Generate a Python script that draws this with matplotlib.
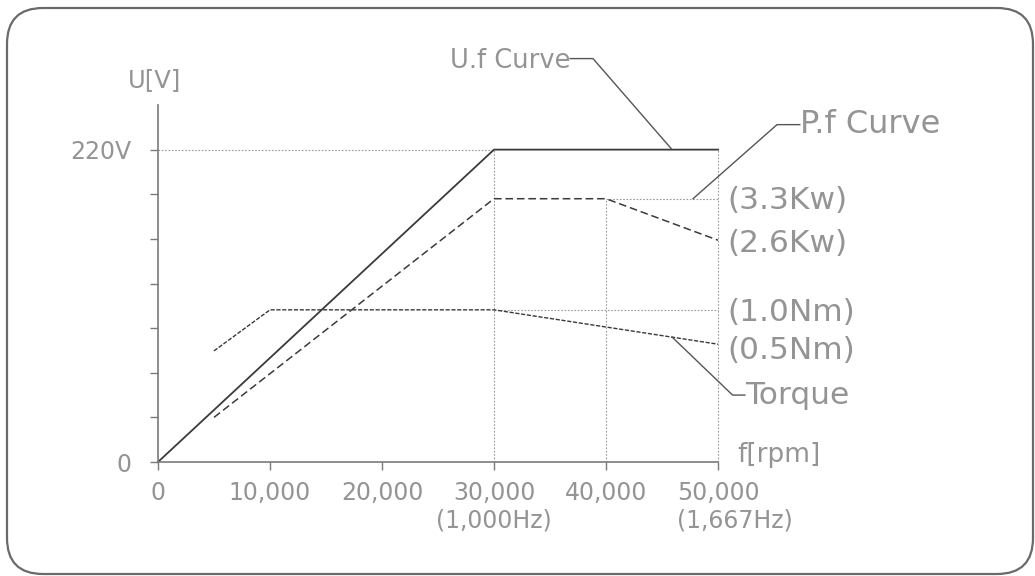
import matplotlib
matplotlib.use("Agg")
import matplotlib.pyplot as plt
from matplotlib.patches import FancyBboxPatch
from matplotlib.transforms import IdentityTransform

# y values are in grid divisions (7 divisions = 220V)
uf_rpm = [0, 30000, 50000]
uf_val = [0, 7.0, 7.0]
pf_rpm = [5000, 30000, 40000, 50000]
pf_val = [1.0, 5.9, 5.9, 4.97]
tq_rpm = [5000, 10000, 30000, 50000]
tq_val = [2.49, 3.41, 3.41, 2.64]

x_ticks = [0, 10000, 20000, 30000, 40000, 50000]
x_labels = ['0', '10,000', '20,000', '30,000', '40,000', '50,000']
y_ticks = [0, 1, 2, 3, 4, 5, 6, 7]
y_labels = ['0', '', '', '', '', '', '', '220V']
hz_pos = [30000, 51500]
hz_labels = ['(1,000Hz)', '(1,667Hz)']

right_labels = ['(3.3Kw)', '(2.6Kw)', '(1.0Nm)', '(0.5Nm)', 'Torque']
right_ypos = [5.87, 4.9, 3.35, 2.5, 1.5]

txt = '#949494'
axc = '#7a7a7a'
guide = '#9a9a9a'

fig = plt.figure(figsize=(10.35, 5.76), dpi=100)
ax = fig.add_axes([158/1035, (576-462)/576, 560/1035, (462-105)/576])
ax.set_xlim(0, 50000)
ax.set_ylim(0, 8)
ax.patch.set_visible(False)

for s in ['top', 'right']:
    ax.spines[s].set_visible(False)
for s in ['left', 'bottom']:
    ax.spines[s].set_color(axc)
    ax.spines[s].set_linewidth(1.2)

ax.set_xticks(x_ticks)
ax.set_xticklabels(x_labels)
ax.set_yticks(y_ticks)
ax.set_yticklabels(y_labels)
ax.tick_params(axis='both', direction='out', length=6, width=1, color=axc,
               labelsize=17, labelcolor=txt)
ax.tick_params(axis='y', pad=13)
ax.tick_params(axis='x', pad=7.5)

# guide lines (dotted)
gkw = dict(color=guide, lw=0.8, dashes=(1.5, 1.5), clip_on=False)
ax.plot([0, uf_rpm[1]], [uf_val[1], uf_val[1]], **gkw)
ax.plot([30000, 30000], [0, uf_val[1]], **gkw)
ax.plot([40000, 40000], [0, pf_val[2]], **gkw)
ax.plot([50000, 50000], [0, uf_val[2]], **gkw)
ax.plot([40000, 50000], [pf_val[2], pf_val[2]], **gkw)
ax.plot([30000, 50000], [tq_val[2], tq_val[2]], **gkw)

# curves
ax.plot(uf_rpm, uf_val, color='#3a3a3a', lw=1.3, clip_on=False)
ax.plot(pf_rpm, pf_val, color='#3a3a3a', lw=1.1, dashes=(5, 2.5), clip_on=False)
ax.plot(tq_rpm, tq_val, color='#3a3a3a', lw=1.0, dashes=(3, 1.2), clip_on=False)

# leaders
lkw = dict(color='#555555', lw=1.0, clip_on=False)
ax.plot([36800, 38840, 45900], [9.04, 9.04, 7.0], **lkw)
ax.plot([57300, 55270, 47770], [7.56, 7.56, 5.9], **lkw)
ax.plot([45900, 51300, 52400], [2.8, 1.5, 1.5], **lkw)

ax.text(36800, 8.98, 'U.f Curve', fontsize=18.5, color=txt, ha='right', va='center')
ax.text(57300, 7.56, 'P.f Curve', fontsize=23, color=txt, ha='left', va='center')
ax.text(-2700, 8.55, 'U[V]', fontsize=17.5, color=txt, ha='left', va='center')
ax.text(51700, 0.15, 'f[rpm]', fontsize=19, color=txt, ha='left', va='center')

for lab, yy in zip(right_labels, right_ypos):
    xx = 52400 if lab == 'Torque' else 50800
    ax.text(xx, yy, lab, fontsize=22.5, color=txt, ha='left', va='center')

for xx, lab in zip(hz_pos, hz_labels):
    ax.text(xx, -1.3, lab, fontsize=17, color=txt, ha='center', va='center')

# rounded frame
frame = FancyBboxPatch((7, 2), 1026, 566, boxstyle="round,pad=0,rounding_size=36",
                       transform=IdentityTransform(), fill=False,
                       edgecolor='#6a6a6a', lw=1.6)
fig.patches.append(frame)

fig.savefig('out.png', dpi=100)
